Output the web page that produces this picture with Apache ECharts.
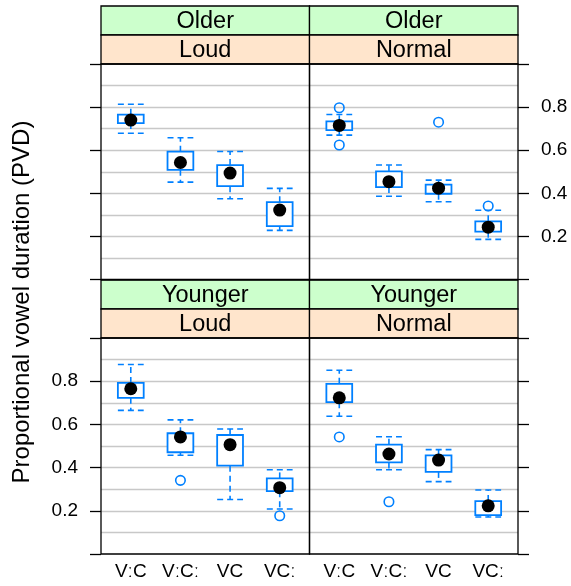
<!DOCTYPE html>
<html>
<head>
<meta charset="utf-8">
<script src="https://cdn.jsdelivr.net/npm/echarts@6/dist/echarts.min.js"></script>
<style>
html,body{margin:0;padding:0;background:#fff;}
#chart{width:571px;height:586px;}
</style>
</head>
<body>
<div id="chart"></div>
<script>
// ---------- data ----------
const categories = ['VːC', 'VːCː', 'VC', 'VCː'];
const ageLevels = ['Older', 'Younger'];
const styleLevels = ['Loud', 'Normal'];
const yTickValues = [0, 0.2, 0.4, 0.6, 0.8, 1.0];
const yTickLabels = ['', '0.2', '0.4', '0.6', '0.8', ''];

// [lower whisker, Q1, median, Q3, upper whisker] per category
const olderLoudStats = [
  [0.679, 0.726, 0.740, 0.765, 0.813],
  [0.452, 0.509, 0.543, 0.593, 0.658],
  [0.375, 0.433, 0.494, 0.531, 0.594],
  [0.228, 0.248, 0.322, 0.359, 0.423]
];
const olderLoudOut = [];

const olderNormalStats = [
  [0.670, 0.693, 0.715, 0.734, 0.766],
  [0.386, 0.429, 0.454, 0.502, 0.531],
  [0.361, 0.398, 0.424, 0.440, 0.461],
  [0.186, 0.222, 0.243, 0.270, 0.321]
];
const olderNormalOut = [[1, 0.797], [1, 0.624], [3, 0.730], [4, 0.341]];

const youngerLoudStats = [
  [0.665, 0.723, 0.765, 0.792, 0.877],
  [0.457, 0.471, 0.542, 0.559, 0.621],
  [0.252, 0.409, 0.506, 0.551, 0.579],
  [0.208, 0.291, 0.307, 0.350, 0.390]
];
const youngerLoudOut = [[2, 0.341], [4, 0.177]];

const youngerNormalStats = [
  [0.638, 0.703, 0.723, 0.788, 0.851],
  [0.390, 0.424, 0.463, 0.506, 0.543],
  [0.335, 0.380, 0.435, 0.457, 0.483],
  [0.171, 0.180, 0.223, 0.245, 0.296]
];
const youngerNormalOut = [[1, 0.542], [2, 0.242]];

// ---------- layout ----------
const FONT = '"Liberation Sans", Arial, Helvetica, sans-serif';
const BLUE = '#0080ff';
const colLeft = [101, 309.5];
const colW = 208.5;
const rowTop = [64, 338];
const rowH = [215.5, 216];
const stripTop = [6, 280];
const stripH = 29;

const panels = [
  { row: 0, col: 0, stats: olderLoudStats, out: olderLoudOut, age: 0, sty: 0 },
  { row: 0, col: 1, stats: olderNormalStats, out: olderNormalOut, age: 0, sty: 1 },
  { row: 1, col: 0, stats: youngerLoudStats, out: youngerLoudOut, age: 1, sty: 0 },
  { row: 1, col: 1, stats: youngerNormalStats, out: youngerNormalOut, age: 1, sty: 1 }
];

const grid = [], xAxis = [], yAxis = [], series = [], graphic = [];

function renderBox(params, api) {
  const x = api.value(0);
  const lo = api.value(1), q1 = api.value(2), q3 = api.value(4), hi = api.value(5);
  const w = api.size([1, 0])[0] * 0.52;
  const pLo = api.coord([x, lo]), pQ1 = api.coord([x, q1]);
  const pQ3 = api.coord([x, q3]), pHi = api.coord([x, hi]);
  const cx = pLo[0];
  const dash = { stroke: BLUE, lineWidth: 1.6, lineDash: [6, 4], fill: null };
  return {
    type: 'group',
    children: [
      { type: 'line', shape: { x1: cx, y1: pQ3[1], x2: cx, y2: pHi[1] }, style: dash },
      { type: 'line', shape: { x1: cx, y1: pQ1[1], x2: cx, y2: pLo[1] }, style: dash },
      { type: 'line', shape: { x1: cx - w / 2, y1: pHi[1], x2: cx + w / 2, y2: pHi[1] }, style: dash },
      { type: 'line', shape: { x1: cx - w / 2, y1: pLo[1], x2: cx + w / 2, y2: pLo[1] }, style: dash },
      { type: 'rect', shape: { x: cx - w / 2, y: pQ3[1], width: w, height: pQ1[1] - pQ3[1] },
        style: { fill: '#fff', stroke: BLUE, lineWidth: 1.8 } }
    ]
  };
}

panels.forEach((p, i) => {
  const left = colLeft[p.col], top = rowTop[p.row], h = rowH[p.row];
  grid.push({ left: left, top: top, width: colW, height: h, containLabel: false });

  xAxis.push({
    type: 'value', gridIndex: i, min: 0.4, max: 4.6,
    axisLine: { show: false }, axisTick: { show: false }, splitLine: { show: false },
    axisLabel: p.row === 1 ? {
      customValues: [1, 2, 3, 4],
      formatter: v => categories[Math.round(v) - 1] || '',
      fontFamily: FONT, fontSize: 19, color: '#000', margin: 8
    } : { show: false }
  });

  // gridline axis
  yAxis.push({
    type: 'value', gridIndex: i, min: 0, max: 1, interval: 0.1,
    position: p.col === 0 ? 'right' : 'left',
    axisLine: { show: false }, axisTick: { show: false }, axisLabel: { show: false },
    splitLine: { show: true, showMinLine: false, showMaxLine: false,
      lineStyle: { color: '#c8c8c8', width: 1.4 } }
  });
  // tick axis
  const showLabels = (p.row === 1 && p.col === 0) || (p.row === 0 && p.col === 1);
  yAxis.push({
    type: 'value', gridIndex: i, min: 0, max: 1, interval: 0.2,
    position: p.col === 0 ? 'left' : 'right',
    axisLine: { show: false },
    axisTick: { show: true, inside: false, length: 11, lineStyle: { color: '#000', width: 1.3 } },
    splitLine: { show: false },
    axisLabel: showLabels ? {
      fontFamily: FONT, fontSize: 19, color: '#000', margin: 23,
      formatter: v => { const k = yTickValues.findIndex(t => Math.abs(t - v) < 1e-6); return k >= 0 ? yTickLabels[k] : ''; }
    } : { show: false }
  });

  const boxData = p.stats.map((s, k) => [k + 1, s[0], s[1], s[2], s[3], s[4]]);
  series.push({
    type: 'custom', xAxisIndex: i, yAxisIndex: 2 * i + 1,
    renderItem: renderBox, data: boxData,
    encode: { x: 0, y: [1, 2, 3, 4, 5] }, z: 2, silent: true
  });
  series.push({
    type: 'scatter', xAxisIndex: i, yAxisIndex: 2 * i + 1,
    data: p.out, symbol: 'circle', symbolSize: 9.5,
    itemStyle: { color: 'rgba(0,0,0,0)', borderColor: BLUE, borderWidth: 1.6, opacity: 1 },
    z: 3, silent: true
  });
  series.push({
    type: 'scatter', xAxisIndex: i, yAxisIndex: 2 * i + 1,
    data: p.stats.map((s, k) => [k + 1, s[2]]), symbol: 'circle', symbolSize: 13,
    itemStyle: { color: '#000', opacity: 1 }, z: 4, silent: true
  });

  // panel frame
  graphic.push({
    type: 'rect', z: 100, silent: true,
    shape: { x: left, y: top, width: colW, height: h },
    style: { fill: null, stroke: '#000', lineWidth: 1.3 }
  });
  // strips
  const sTop = stripTop[p.row];
  graphic.push({
    type: 'rect', z: 90, silent: true,
    shape: { x: left, y: sTop, width: colW, height: stripH },
    style: { fill: '#ccffcc', stroke: '#000', lineWidth: 1.3 }
  });
  graphic.push({
    type: 'rect', z: 90, silent: true,
    shape: { x: left, y: sTop + stripH, width: colW, height: top - sTop - stripH },
    style: { fill: '#ffe5cc', stroke: '#000', lineWidth: 1.3 }
  });
  graphic.push({
    type: 'text', z: 95, silent: true, x: left + colW / 2, y: sTop + stripH / 2 + 1,
    style: { text: ageLevels[p.age], fontFamily: FONT, fontSize: 23.5, fill: '#000',
      align: 'center', verticalAlign: 'middle' }
  });
  graphic.push({
    type: 'text', z: 95, silent: true, x: left + colW / 2, y: sTop + stripH + (top - sTop - stripH) / 2 + 1,
    style: { text: styleLevels[p.sty], fontFamily: FONT, fontSize: 23.5, fill: '#000',
      align: 'center', verticalAlign: 'middle' }
  });
});

graphic.push({
  type: 'text', z: 95, silent: true, x: 22, y: 302, rotation: Math.PI / 2,
  style: { text: 'Proportional vowel duration (PVD)', fontFamily: FONT, fontSize: 24, fill: '#000',
    align: 'center', verticalAlign: 'middle' }
});

const chart = echarts.init(document.getElementById('chart'), null, { renderer: 'canvas' });
chart.setOption({
  animation: false,
  backgroundColor: '#fff',
  grid: grid, xAxis: xAxis, yAxis: yAxis, series: series, graphic: graphic
});
</script>
</body>
</html>
